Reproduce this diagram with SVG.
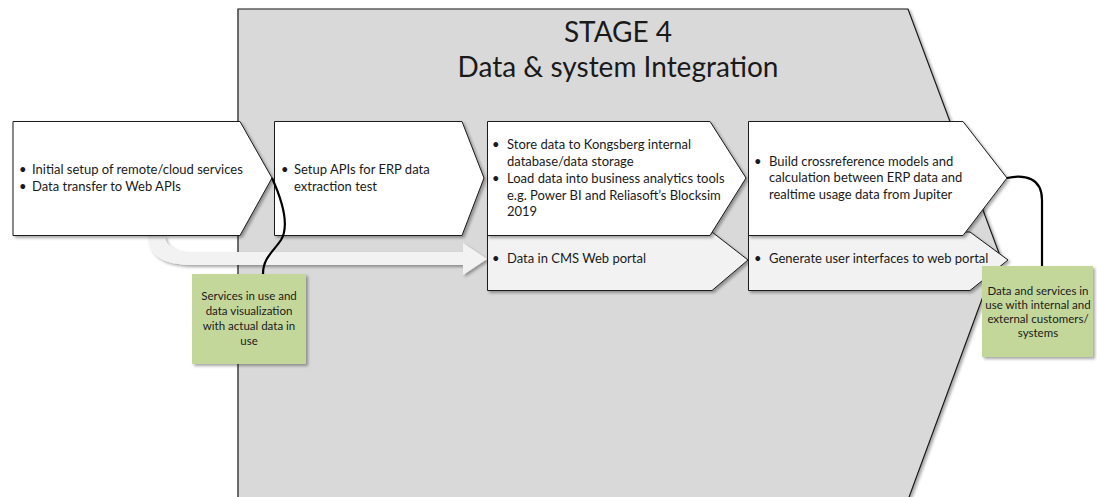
<svg xmlns="http://www.w3.org/2000/svg" width="1097" height="497" viewBox="0 0 1097 497">
  <style>
    .stage { fill: #d9d9d9; stroke: #1a1a1a; stroke-width: 1.2; }
    .step { fill: #ffffff; stroke: #1a1a1a; stroke-width: 1; }
    .sub { fill: #f2f2f2; stroke: #1a1a1a; stroke-width: 1; }
    .note { fill: #c4d79b; }
    .link { fill: none; stroke: #000000; stroke-width: 2.2; }
    .flow { fill: #f2f2f2; }
    text { font-family: Lato, "Open Sans", sans-serif; fill: #1a1a1a; }
    .title { font-size: 28px; text-anchor: middle; }
    .body { font-size: 13px; }
    .ntext { font-size: 11.5px; text-anchor: middle; }
  </style>
  <defs>
    <filter id="shadow" x="-10%" y="-10%" width="130%" height="130%">
      <feDropShadow dx="2" dy="2" stdDeviation="1.5" flood-color="#000" flood-opacity="0.35"/>
    </filter>
  </defs>

  <!-- stage background chevron -->
  <g id="stage4">
    <polygon class="stage" filter="url(#shadow)" points="238,9 908,9 999,253 908,500 238,500"/>
    <text class="title" x="618" y="42">STAGE 4</text>
    <text class="title" x="618" y="77">Data &amp; system Integration</text>
  </g>

  <!-- flow arrow running under the first step into the web portal -->
  <g id="flow-arrow">
    <path class="flow" filter="url(#shadow)" d="M148,236 C148,256 165,265 192,265 L463,265 L463,275 L487,259 L463,243 L463,252 L192,252 C178,252 165,247 165,236 Z"/>
  </g>

  <g id="step1">
    <polygon class="step" filter="url(#shadow)" points="13,121.5 240,121.5 272,178 240,235.5 13,235.5"/>
    <text class="body" x="19" y="174">•</text>
    <text class="body" x="32" y="174">Initial setup of remote/cloud services</text>
    <text class="body" x="19" y="191">•</text>
    <text class="body" x="32" y="191">Data transfer to Web APIs</text>
  </g>

  <g id="step2">
    <polygon class="step" filter="url(#shadow)" points="274.5,121.5 462,121.5 484,178 462,235.5 274.5,235.5"/>
    <text class="body" x="281" y="174">•</text>
    <text class="body" x="294" y="174">Setup APIs for ERP data</text>
    <text class="body" x="294" y="191">extraction test</text>
  </g>

  <g id="step3-portal">
    <polygon class="sub" filter="url(#shadow)" points="487.5,232 712,232 748,260 712,290.5 487.5,290.5"/>
    <text class="body" x="492" y="263">•</text>
    <text class="body" x="507" y="263">Data in CMS Web portal</text>
  </g>

  <g id="step3">
    <polygon class="step" filter="url(#shadow)" points="487.5,121.5 710,121.5 746,178 710,235.5 487.5,235.5"/>
    <text class="body" x="492" y="149">•</text>
    <text class="body" x="507" y="149">Store data to Kongsberg internal</text>
    <text class="body" x="507" y="166">database/data storage</text>
    <text class="body" x="492" y="183">•</text>
    <text class="body" x="507" y="183">Load data into business analytics tools</text>
    <text class="body" x="507" y="200">e.g. Power BI and Reliasoft’s Blocksim</text>
    <text class="body" x="507" y="216">2019</text>
  </g>

  <g id="step4-ui">
    <polygon class="sub" filter="url(#shadow)" points="748.5,232 970,232 1008,260 970,290.5 748.5,290.5"/>
    <text class="body" x="754" y="263">•</text>
    <text class="body" x="769" y="263">Generate user interfaces to web portal</text>
  </g>

  <g id="step4">
    <polygon class="step" filter="url(#shadow)" points="748.5,121.5 963,121.5 1007,178 963,235.5 748.5,235.5"/>
    <text class="body" x="754" y="166">•</text>
    <text class="body" x="769" y="166">Build crossreference models and</text>
    <text class="body" x="769" y="182">calculation between ERP data and</text>
    <text class="body" x="769" y="199">realtime usage data from Jupiter</text>
  </g>

  <!-- callout leaders -->
  <g id="connectors">
    <path class="link" d="M272,178 C282,200 290,225 281,240 C273,252 263,258 263,274"/>
    <path class="link" d="M1007,178 C1025,174 1042,178 1042,200 L1042,266"/>
  </g>

  <g id="note-services">
    <rect class="note" filter="url(#shadow)" x="192" y="274" width="114" height="90"/>
    <text class="ntext" x="249" y="300">Services in use and</text>
    <text class="ntext" x="249" y="315">data visualization</text>
    <text class="ntext" x="249" y="330">with actual data in</text>
    <text class="ntext" x="249" y="345">use</text>
  </g>

  <g id="note-customers">
    <rect class="note" filter="url(#shadow)" x="982" y="266" width="111" height="91"/>
    <text class="ntext" x="1038" y="295">Data and services in</text>
    <text class="ntext" x="1038" y="309">use with internal and</text>
    <text class="ntext" x="1038" y="323">external customers/</text>
    <text class="ntext" x="1038" y="337">systems</text>
  </g>
</svg>
